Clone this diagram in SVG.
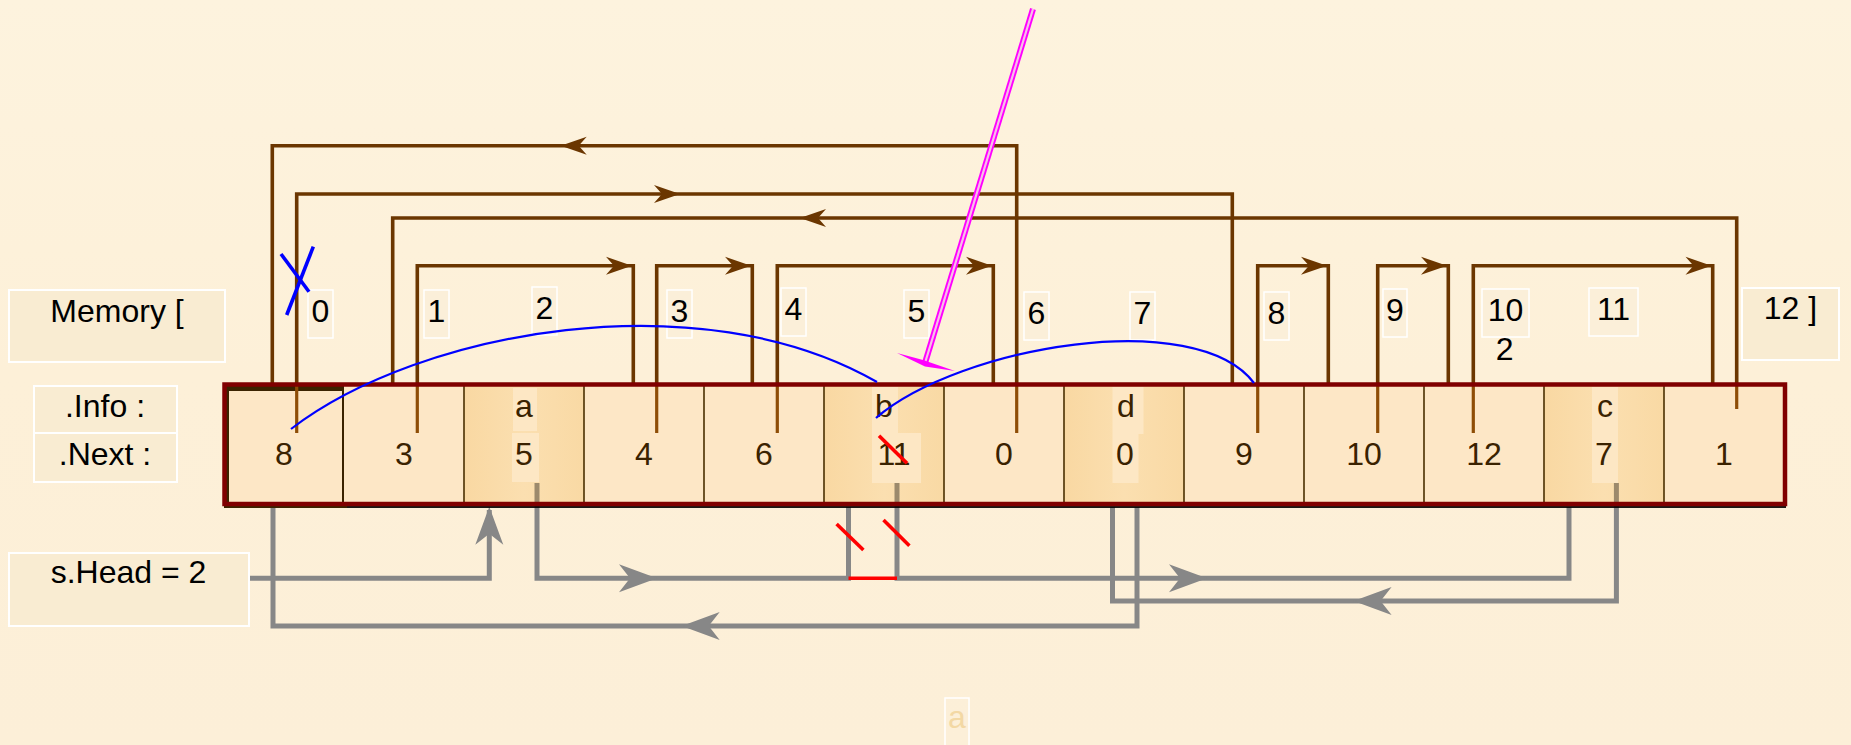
<svg xmlns="http://www.w3.org/2000/svg" xmlns:xlink="http://www.w3.org/1999/xlink" width="1851" height="745" viewBox="0 0 1851 745">
<defs>
<linearGradient id="bg" x1="0" y1="0" x2="0" y2="1">
<stop offset="0" stop-color="#fdf3de"/>
<stop offset="0.5" stop-color="#fdf0d8"/>
<stop offset="1" stop-color="#fcefd8"/>
</linearGradient>
<linearGradient id="dark" x1="0" y1="0" x2="1" y2="0">
<stop offset="0" stop-color="#f9d8a2"/>
<stop offset="0.5" stop-color="#fbdfb0"/>
<stop offset="1" stop-color="#f9d9a4"/>
</linearGradient>
<path id="ahB" d="M0,0 L-26,-9 L-18,0 L-26,9 Z" fill="#6b3600"/>
<path id="ahG" d="M0,0 L-38,-14 L-27,0 L-38,14 Z" fill="#878787"/>
</defs>
<style>
.lbl{fill:#f9ecd2;stroke:#ffffff;stroke-width:2}
.idx{fill:#fbefd9;stroke:#ffffff;stroke-width:1.5}
.t{font-family:"Liberation Sans",Arial,sans-serif;font-size:32px;fill:#000;text-anchor:middle}
.ct{font-family:"Liberation Sans",Arial,sans-serif;font-size:32px;fill:#3a2200;text-anchor:middle}
.brown{fill:none;stroke:#6b3600;stroke-width:3.6;stroke-linejoin:miter}
.brin{fill:none;stroke:#8e4d06;stroke-width:3.2}
.gray{fill:none;stroke:#878787;stroke-width:5}
.grin{fill:none;stroke:#9c8a6c;stroke-width:5}
.cell{fill:#fde7c6}
.dcell{fill:url(#dark)}
.tbg{fill:#fde7c4}
.div{stroke:#4a3000;stroke-width:1.6}
.blue{fill:none;stroke:#0000ff;stroke-width:2.2}
.red{fill:none;stroke:#ff0000;stroke-width:3.6}
</style>
<rect x="0" y="0" width="1851" height="745" fill="url(#bg)"/>

<!-- connectors -->
<g id="connectors">
  <g id="free-links">
    <path class="brown" d="M1016.7,433 V145.7 H272.3 V384"/>
    <use xlink:href="#ahB" href="#ahB" transform="translate(560.7,145.7) rotate(180)"/>
    <path class="brown" d="M296.7,433 V194 H1232.3 V384"/>
    <use xlink:href="#ahB" href="#ahB" transform="translate(680,194)"/>
    <path class="brown" d="M1736.7,409 V218 H392.7 V384"/>
    <use xlink:href="#ahB" href="#ahB" transform="translate(800,218) rotate(180)"/>
    <path class="brown" d="M417.3,433 V265.7 H633.3 V384"/>
    <use xlink:href="#ahB" href="#ahB" transform="translate(632,265.7)"/>
    <path class="brown" d="M656.7,433 V265.7 H752.3 V384"/>
    <use xlink:href="#ahB" href="#ahB" transform="translate(751,265.7)"/>
    <path class="brown" d="M777.3,433 V265.7 H993.3 V384"/>
    <use xlink:href="#ahB" href="#ahB" transform="translate(992,265.7)"/>
    <path class="brown" d="M1257.7,433 V265.7 H1328.3 V384"/>
    <use xlink:href="#ahB" href="#ahB" transform="translate(1327,265.7)"/>
    <path class="brown" d="M1377.7,433 V265.7 H1448.3 V384"/>
    <use xlink:href="#ahB" href="#ahB" transform="translate(1447,265.7)"/>
    <path class="brown" d="M1473.3,433 V265.7 H1712.7 V384"/>
    <use xlink:href="#ahB" href="#ahB" transform="translate(1711.5,265.7)"/>
  </g>
  <g id="list-links">
    <path class="gray" d="M249,578.3 H489.3 V510"/>
    <use xlink:href="#ahG" href="#ahG" transform="translate(489.3,506.7) rotate(-90)"/>
    <path class="gray" d="M537,483 V578.3 H848.5 V507"/>
    <use xlink:href="#ahG" href="#ahG" transform="translate(657,578.3)"/>
    <path class="gray" d="M897,483 V578.3 H1569 V507"/>
    <use xlink:href="#ahG" href="#ahG" transform="translate(1207,578.3)"/>
    <path class="gray" d="M1616.4,483 V601 H1112.5 V507"/>
    <use xlink:href="#ahG" href="#ahG" transform="translate(1353.6,601) rotate(180)"/>
    <path class="gray" d="M1137,507 V626 H273 V507"/>
    <use xlink:href="#ahG" href="#ahG" transform="translate(681.7,626) rotate(180)"/>
  </g>
</g>

<!-- memory array -->
<g id="array">
  <rect x="224" y="386" width="1562" height="120" fill="#000" opacity="0.9" transform="translate(0,2)"/>
  <g id="cell-0"><rect class="cell" x="224" y="384" width="120" height="120"/><rect x="226.5" y="388.5" width="118" height="117" fill="none" stroke="#3b2300" stroke-width="5"/></g>
  <g id="cell-1"><rect class="cell" x="344" y="384" width="120" height="120"/></g>
  <g id="cell-2"><rect class="dcell" x="464" y="384" width="120" height="122"/><rect class="tbg" x="513" y="388" width="24" height="43"/><rect class="tbg" x="512" y="433" width="27" height="49"/></g>
  <g id="cell-3"><rect class="cell" x="584" y="384" width="120" height="120"/></g>
  <g id="cell-4"><rect class="cell" x="704" y="384" width="120" height="120"/></g>
  <g id="cell-5"><rect class="dcell" x="824" y="384" width="120" height="122"/><rect class="tbg" x="872" y="387" width="26" height="46"/><rect class="tbg" x="872" y="433" width="49" height="50"/></g>
  <g id="cell-6"><rect class="cell" x="944" y="384" width="120" height="120"/></g>
  <g id="cell-7"><rect class="dcell" x="1064" y="384" width="120" height="122"/><rect class="tbg" x="1112.5" y="387" width="31" height="47"/><rect class="tbg" x="1112.5" y="434" width="26" height="49"/></g>
  <g id="cell-8"><rect class="cell" x="1184" y="384" width="120" height="120"/></g>
  <g id="cell-9"><rect class="cell" x="1304" y="384" width="120" height="120"/></g>
  <g id="cell-10"><rect class="cell" x="1424" y="384" width="120" height="120"/></g>
  <g id="cell-11"><rect class="dcell" x="1544" y="384" width="120" height="122"/><rect class="tbg" x="1592" y="387" width="26" height="96"/></g>
  <g id="cell-12"><rect class="cell" x="1664" y="384" width="120" height="120"/></g>
  <g id="dividers">
    <line class="div" x1="464" y1="386" x2="464" y2="504"/>
    <line class="div" x1="584" y1="386" x2="584" y2="504"/>
    <line class="div" x1="704" y1="386" x2="704" y2="504"/>
    <line class="div" x1="824" y1="386" x2="824" y2="504"/>
    <line class="div" x1="944" y1="386" x2="944" y2="504"/>
    <line class="div" x1="1064" y1="386" x2="1064" y2="504"/>
    <line class="div" x1="1184" y1="386" x2="1184" y2="504"/>
    <line class="div" x1="1304" y1="386" x2="1304" y2="504"/>
    <line class="div" x1="1424" y1="386" x2="1424" y2="504"/>
    <line class="div" x1="1544" y1="386" x2="1544" y2="504"/>
    <line class="div" x1="1664" y1="386" x2="1664" y2="504"/>
  </g>
  <!-- inner link starts -->
  <g id="inner-links">
    <line class="brin" x1="296.7" y1="386" x2="296.7" y2="433"/>
    <line class="brin" x1="417.3" y1="386" x2="417.3" y2="433"/>
    <line class="brin" x1="656.7" y1="386" x2="656.7" y2="433"/>
    <line class="brin" x1="777.3" y1="386" x2="777.3" y2="433"/>
    <line class="brin" x1="1016.7" y1="386" x2="1016.7" y2="433"/>
    <line class="brin" x1="1257.7" y1="386" x2="1257.7" y2="433"/>
    <line class="brin" x1="1377.7" y1="386" x2="1377.7" y2="433"/>
    <line class="brin" x1="1473.3" y1="386" x2="1473.3" y2="433"/>
    <line class="brin" x1="1736.7" y1="386" x2="1736.7" y2="409"/>
    <line class="grin" x1="537" y1="483" x2="537" y2="504"/>
    <line class="grin" x1="897" y1="483" x2="897" y2="504"/>
    <line class="grin" x1="1616.4" y1="483" x2="1616.4" y2="504"/>
  </g>
  <rect x="224.5" y="384.5" width="1560.5" height="119.5" fill="none" stroke="#800000" stroke-width="4.5"/>
  <g id="cell-text">
    <text class="ct" x="284" y="465">8</text>
    <text class="ct" x="404" y="465">3</text>
    <text class="ct" x="524" y="417">a</text>
    <text class="ct" x="524" y="465">5</text>
    <text class="ct" x="644" y="465">4</text>
    <text class="ct" x="764" y="465">6</text>
    <text class="ct" x="884" y="417">b</text>
    <text class="ct" x="894" y="465">11</text>
    <text class="ct" x="1004" y="465">0</text>
    <text class="ct" x="1126" y="417">d</text>
    <text class="ct" x="1125" y="465">0</text>
    <text class="ct" x="1244" y="465">9</text>
    <text class="ct" x="1364" y="465">10</text>
    <text class="ct" x="1484" y="465">12</text>
    <text class="ct" x="1605" y="417">c</text>
    <text class="ct" x="1604" y="465">7</text>
    <text class="ct" x="1724" y="465">1</text>
  </g>
</g>

<!-- labels -->
<g id="memory-label"><rect class="lbl" x="9" y="290" width="216" height="72"/><text class="t" x="117" y="322">Memory [</text></g>
<g id="info-label"><rect class="lbl" x="34" y="386" width="143" height="47"/><text class="t" x="105" y="417">.Info :</text></g>
<g id="next-label"><rect class="lbl" x="34" y="433" width="143" height="49"/><text class="t" x="105" y="465">.Next :</text></g>
<g id="head-label"><rect class="lbl" x="9" y="553" width="240" height="73"/><text class="t" x="128.5" y="583">s.Head = 2</text></g>

<g id="indices">
  <g id="idx-0"><rect class="idx" x="308" y="290" width="25" height="48"/><text class="t" x="320.5" y="322">0</text></g>
  <g id="idx-1"><rect class="idx" x="424" y="290" width="25" height="48"/><text class="t" x="436.5" y="322">1</text></g>
  <g id="idx-2"><rect class="idx" x="532" y="287" width="25" height="48"/><text class="t" x="544.5" y="319">2</text></g>
  <g id="idx-3"><rect class="idx" x="667" y="290" width="25" height="48"/><text class="t" x="679.5" y="322">3</text></g>
  <g id="idx-4"><rect class="idx" x="781" y="288" width="25" height="48"/><text class="t" x="793.5" y="320">4</text></g>
  <g id="idx-5"><rect class="idx" x="904" y="290" width="25" height="48"/><text class="t" x="916.5" y="322">5</text></g>
  <g id="idx-6"><rect class="idx" x="1024" y="292" width="25" height="48"/><text class="t" x="1036.5" y="324">6</text></g>
  <g id="idx-7"><rect class="idx" x="1130" y="292" width="25" height="48"/><text class="t" x="1142.5" y="324">7</text></g>
  <g id="idx-8"><rect class="idx" x="1264" y="292" width="25" height="48"/><text class="t" x="1276.5" y="324">8</text></g>
  <g id="idx-9"><rect class="idx" x="1383" y="289" width="24" height="48"/><text class="t" x="1395" y="321">9</text></g>
  <g id="idx-10"><rect class="idx" x="1482" y="289" width="47" height="48"/><text class="t" x="1505.5" y="321">10</text><text class="t" x="1504.7" y="360">2</text></g>
  <g id="idx-11"><rect class="idx" x="1589" y="288" width="49" height="48"/><text class="t" x="1613.5" y="320">11</text></g>
  <g id="idx-12"><rect class="lbl" x="1742" y="288" width="97" height="72"/><text class="t" x="1790.5" y="319">12 ]</text></g>
</g>

<!-- annotations -->
<g id="annotations">
  <path class="blue" d="M291,429 C420,330 700,280 877,382"/>
  <path class="blue" d="M876,418 C960,346 1196,306 1254,383"/>
  <line x1="281" y1="254" x2="309" y2="291.7" stroke="#0000ff" stroke-width="3.6"/>
  <line x1="313.3" y1="246.7" x2="286.7" y2="315" stroke="#0000ff" stroke-width="3.6"/>
  <line class="red" x1="848.5" y1="578.3" x2="897" y2="578.3" stroke-width="4"/>
  <line class="red" x1="836.6" y1="524" x2="863.4" y2="550"/>
  <line class="red" x1="883.5" y1="520" x2="909.4" y2="545.7"/>
  <line class="red" x1="879" y1="435.7" x2="907" y2="463.3" stroke-width="3"/>
  <g id="pink-arrow">
    <line x1="1033" y1="9" x2="925" y2="363" stroke="#ff00ff" stroke-width="6"/>
    <line x1="1033" y1="9" x2="925" y2="363" stroke="#f7bfe9" stroke-width="2.2"/>
    <polygon points="897,353 923,360 955,371 925,366.5" fill="#ff00ff"/>
  </g>
  <g id="faint-a"><rect x="945" y="698" width="24" height="52" fill="none" stroke="#ffffff" stroke-width="1.5"/><text class="t" x="957" y="728" style="fill:#f3d8a4">a</text></g>
</g>
</svg>
